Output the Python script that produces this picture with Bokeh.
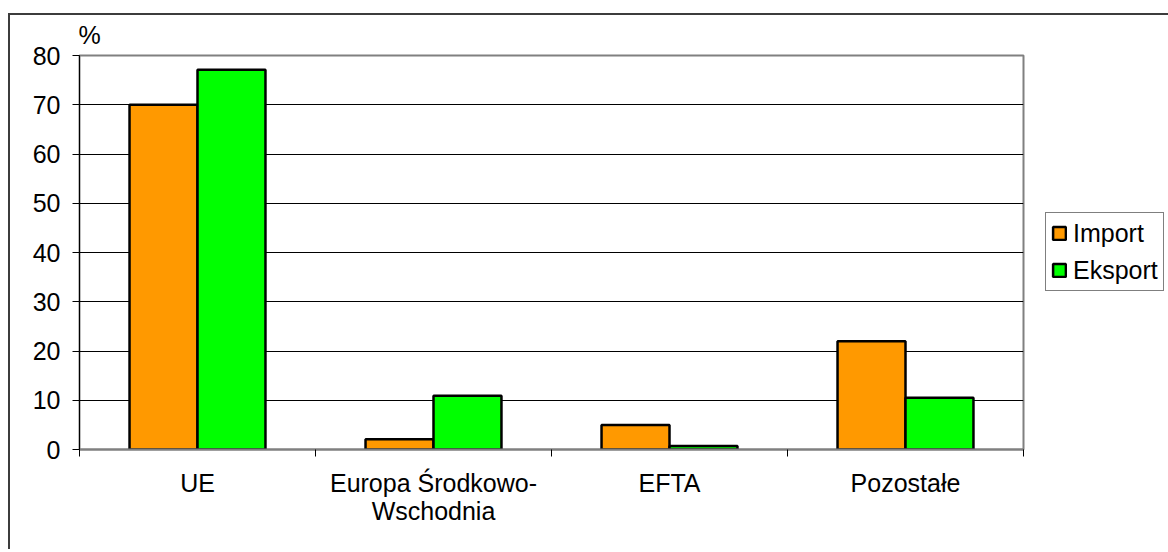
from bokeh.plotting import figure
from bokeh.models import ColumnDataSource, FixedTicker, Legend, LegendItem, Range1d
from bokeh.transform import dodge
from bokeh.layouts import column
from bokeh.embed import file_html
from bokeh.resources import INLINE

categories = ["UE", "Europa Środkowo-\nWschodnia", "EFTA", "Pozostałe"]
imports = [70.0, 2.1, 5.0, 22.0]
exports = [77.1, 10.9, 0.7, 10.5]
y_ticks = [0, 10, 20, 30, 40, 50, 60, 70, 80]
series_names = ["Import", "Eksport"]
unit_label = "%"

FONT = "Liberation Sans"
FS = "25px"

ML, MT, FW, FH, MB = 69, 40, 944, 394, 100

xc = [i + 0.5 for i in range(len(categories))]
src = ColumnDataSource(dict(x=xc, imp=imports, exp=exports))

p = figure(frame_width=FW, frame_height=FH,
           x_range=Range1d(0, len(categories)), y_range=Range1d(0, 80),
           output_backend="svg", toolbar_location=None,
           min_border_left=ML, min_border_top=MT,
           min_border_right=0, min_border_bottom=MB)
p.title.text = unit_label
p.title.align = "left"
p.title.vertical_align = "top"
p.title.offset = -1
p.title.standoff = 10
p.title.text_font = FONT
p.title.text_font_size = FS
p.title.text_font_style = "normal"
p.title.text_color = "black"

p.background_fill_color = "white"
p.border_fill_color = "white"
p.outline_line_color = "#808080"
p.outline_line_width = 2

r1 = p.vbar(x=dodge("x", -0.144), top="imp", width=0.288, source=src,
            fill_color="#FF9900", line_color="black", line_width=2.5)
r2 = p.vbar(x=dodge("x", 0.144), top="exp", width=0.288, source=src,
            fill_color="#00FF00", line_color="black", line_width=2.5)

# x axis
p.xaxis.ticker = FixedTicker(ticks=xc, minor_ticks=list(range(len(categories) + 1)))
p.xaxis.major_label_overrides = {x: c for x, c in zip(xc, categories)}
p.xaxis.major_tick_line_color = None
p.xaxis.major_tick_out = 0
p.xaxis.major_tick_in = 0
p.xaxis.minor_tick_line_color = "black"
p.xaxis.minor_tick_out = 7
p.xaxis.minor_tick_in = 0
p.xaxis.axis_line_color = "#808080"
p.xaxis.axis_line_width = 2
p.xaxis.major_label_standoff = 12
p.xaxis.major_label_text_font = FONT
p.xaxis.major_label_text_font_size = FS
p.xaxis.major_label_text_line_height = 1.0
p.xaxis.major_label_text_color = "black"

# y axis
p.yaxis.ticker = FixedTicker(ticks=y_ticks)
p.yaxis.axis_line_color = "black"
p.yaxis.axis_line_width = 1
p.yaxis.major_tick_line_color = "black"
p.yaxis.major_tick_out = 7
p.yaxis.major_tick_in = 0
p.yaxis.minor_tick_line_color = None
p.yaxis.major_label_standoff = 12
p.yaxis.major_label_text_font = FONT
p.yaxis.major_label_text_font_size = FS
p.yaxis.major_label_text_color = "black"

p.xgrid.grid_line_color = None
p.ygrid.grid_line_color = "black"
p.ygrid.grid_line_width = 1

legend = Legend(items=[LegendItem(label=series_names[0], renderers=[r1]),
                       LegendItem(label=series_names[1], renderers=[r2])],
                location=(22, 158))
legend.label_text_font = FONT
legend.label_text_font_size = FS
legend.label_text_color = "black"
legend.glyph_width = 16
legend.glyph_height = 16
legend.label_standoff = 6
legend.label_height = 30
legend.spacing = 7
legend.padding = 5
legend.margin = 0
legend.border_line_color = "black"
legend.border_line_width = 1
legend.background_fill_color = "white"
legend.background_fill_alpha = 1
p.add_layout(legend, "right")

layout = column(p, styles={"margin-top": "13px", "margin-left": "8px",
                           "border-left": "2px solid #3c3c3c",
                           "border-top": "2px solid #3c3c3c"})

open("out.html", "w").write(file_html(layout, INLINE))
